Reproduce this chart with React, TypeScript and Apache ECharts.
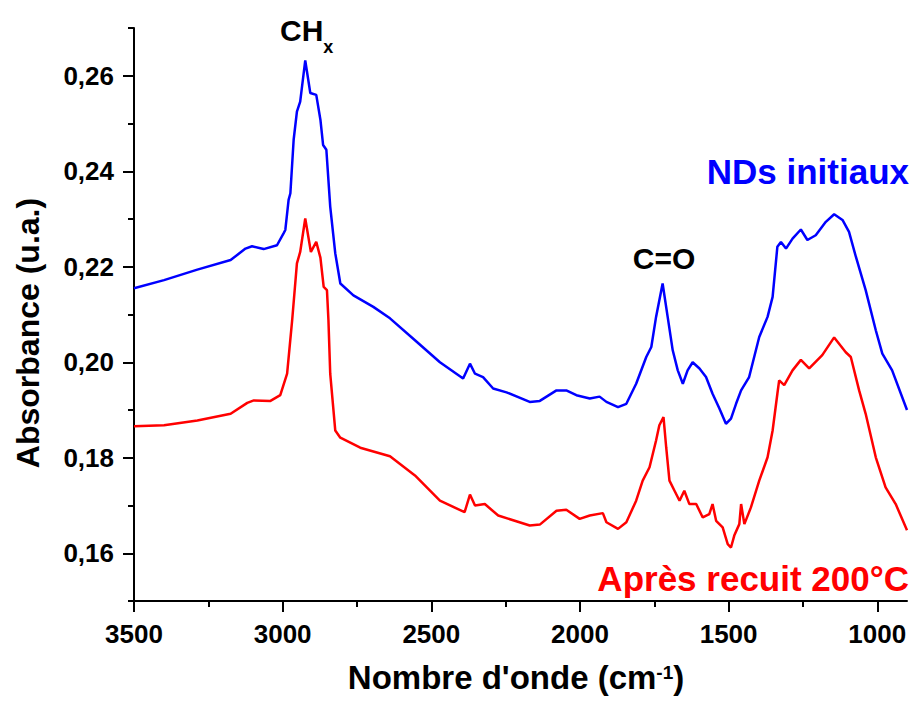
import React, { useEffect, useRef } from "react";
import * as echarts from "echarts";

// Wavenumber (cm-1), absorbance (u.a.)
const ndsInitiaux: [number, number][] = [
  [3500, 0.2155], [3399, 0.2172], [3287, 0.2194], [3175, 0.2214], [3125, 0.2238], [3103, 0.2243],
  [3064, 0.2237], [3019, 0.2245], [2997, 0.227], [2991, 0.2277], [2980, 0.234], [2974, 0.2354],
  [2963, 0.2466], [2952, 0.2525], [2941, 0.2546], [2924, 0.2632], [2907, 0.2564], [2887, 0.256],
  [2873, 0.2508], [2864, 0.2455], [2853, 0.2445], [2840, 0.2326], [2823, 0.2228], [2806, 0.2165],
  [2762, 0.214], [2695, 0.2116], [2639, 0.2092], [2555, 0.2046], [2471, 0.2], [2393, 0.1966],
  [2370, 0.1997], [2353, 0.1976], [2326, 0.1969], [2292, 0.1945], [2247, 0.1937], [2169, 0.1917],
  [2135, 0.1919], [2079, 0.1941], [2046, 0.1941], [2012, 0.1931], [1967, 0.1924], [1934, 0.1928],
  [1911, 0.1917], [1872, 0.1906], [1844, 0.1913], [1811, 0.1955], [1777, 0.2011], [1760, 0.2032],
  [1744, 0.2095], [1722, 0.2165], [1705, 0.2095], [1688, 0.2025], [1671, 0.1983], [1654, 0.1955],
  [1638, 0.1983], [1621, 0.2], [1598, 0.1987], [1576, 0.1969], [1554, 0.1934], [1531, 0.1903],
  [1509, 0.1871], [1492, 0.1882], [1475, 0.1913], [1458, 0.1941], [1431, 0.1969], [1397, 0.2053],
  [1369, 0.2095], [1352, 0.2137], [1336, 0.2242], [1324, 0.2252], [1307, 0.2238], [1285, 0.2259],
  [1257, 0.2278], [1235, 0.2256], [1207, 0.2266], [1173, 0.2294], [1145, 0.231], [1117, 0.2298],
  [1095, 0.2273], [1072, 0.2221], [1039, 0.2151], [1005, 0.2067], [983, 0.2018], [950, 0.1983],
  [900, 0.19],
];

const apresRecuit: [number, number][] = [
  [3500, 0.1866], [3399, 0.1868], [3287, 0.1878], [3175, 0.1892], [3119, 0.1915], [3097, 0.192],
  [3041, 0.1919], [3008, 0.1931], [2985, 0.1976], [2968, 0.2088], [2952, 0.2207], [2941, 0.2231],
  [2924, 0.2301], [2905, 0.2231], [2887, 0.2252], [2873, 0.2219], [2862, 0.2158], [2851, 0.2151],
  [2846, 0.2088], [2840, 0.1976], [2823, 0.1857], [2806, 0.1842], [2739, 0.1821], [2639, 0.1803],
  [2555, 0.1763], [2471, 0.171], [2388, 0.1686], [2370, 0.1723], [2353, 0.17], [2320, 0.1703],
  [2275, 0.1679], [2169, 0.1658], [2135, 0.166], [2079, 0.1689], [2046, 0.1691], [2001, 0.1672],
  [1967, 0.1679], [1923, 0.1684], [1911, 0.1665], [1872, 0.1651], [1844, 0.1665], [1811, 0.171],
  [1789, 0.1752], [1766, 0.178], [1744, 0.1836], [1733, 0.1868], [1719, 0.1885], [1710, 0.1822],
  [1699, 0.1752], [1682, 0.1731], [1665, 0.171], [1649, 0.1731], [1632, 0.1703], [1609, 0.1703],
  [1587, 0.1675], [1565, 0.1682], [1554, 0.1703], [1542, 0.1668], [1520, 0.1654], [1503, 0.1619],
  [1492, 0.1612], [1481, 0.1637], [1464, 0.1661], [1458, 0.1703], [1447, 0.1661], [1425, 0.1696],
  [1397, 0.1752], [1369, 0.1801], [1352, 0.1857], [1336, 0.1934], [1330, 0.1962], [1313, 0.1952],
  [1285, 0.1983], [1257, 0.2005], [1229, 0.1987], [1185, 0.2015], [1145, 0.2052], [1106, 0.2021],
  [1089, 0.2011], [1061, 0.1941], [1039, 0.1892], [1005, 0.1801], [972, 0.1738], [938, 0.1703],
  [900, 0.1648],
];

const xMajorTicks = [1000, 1500, 2000, 2500, 3000, 3500];
const xMinorTicks = [1250, 1750, 2250, 2750, 3250];
const yMajorTicks = [0.16, 0.18, 0.2, 0.22, 0.24, 0.26];
const yMinorTicks = [0.15, 0.17, 0.19, 0.21, 0.23, 0.25, 0.27];

const FONT = "'Liberation Sans', Arial, sans-serif";

export default function App() {
  const ref = useRef<HTMLDivElement>(null);

  useEffect(() => {
    if (!ref.current) return;
    const chart = echarts.init(ref.current, undefined, { renderer: "svg" });
    const axisBase = {
      type: "value" as const,
      splitLine: { show: false },
    };
    chart.setOption({
      animation: false,
      backgroundColor: "#ffffff",
      grid: {
        left: 134,
        right: 5,
        top: 28,
        bottom: 103,
        containLabel: false,
        outerBoundsMode: "none",
      },
      xAxis: [
        {
          ...axisBase,
          min: 900,
          max: 3500,
          inverse: true,
          position: "bottom",
          axisLine: { show: true, lineStyle: { color: "#000", width: 2 } },
          axisTick: {
            show: true,
            inside: false,
            length: 11,
            customValues: xMajorTicks,
            lineStyle: { color: "#000", width: 2 },
          },
          axisLabel: {
            customValues: xMajorTicks,
            margin: 20,
            color: "#000",
            fontFamily: FONT,
            fontWeight: "bold",
            fontSize: 26,
            formatter: (v: number) => String(Math.round(v)),
          },
        },
        {
          ...axisBase,
          min: 900,
          max: 3500,
          inverse: true,
          position: "bottom",
          axisLine: { show: false },
          axisLabel: { show: false },
          axisTick: {
            show: true,
            inside: false,
            length: 6,
            customValues: xMinorTicks,
            lineStyle: { color: "#000", width: 2 },
          },
        },
      ],
      yAxis: [
        {
          ...axisBase,
          min: 0.15,
          max: 0.27,
          position: "left",
          axisLine: { show: true, lineStyle: { color: "#000", width: 2 } },
          axisTick: {
            show: true,
            inside: false,
            length: 11,
            customValues: yMajorTicks,
            lineStyle: { color: "#000", width: 2 },
          },
          axisLabel: {
            customValues: yMajorTicks,
            margin: 20,
            color: "#000",
            fontFamily: FONT,
            fontWeight: "bold",
            fontSize: 26,
            formatter: (v: number) => v.toFixed(2).replace(".", ","),
          },
        },
        {
          ...axisBase,
          min: 0.15,
          max: 0.27,
          position: "left",
          axisLine: { show: false },
          axisLabel: { show: false },
          axisTick: {
            show: true,
            inside: false,
            length: 6,
            customValues: yMinorTicks,
            lineStyle: { color: "#000", width: 2 },
          },
        },
      ],
      series: [
        {
          name: "NDs initiaux",
          type: "line",
          xAxisIndex: 0,
          yAxisIndex: 0,
          data: ndsInitiaux,
          showSymbol: false,
          symbol: "none",
          lineStyle: { color: "#0000ff", width: 2.5 },
          itemStyle: { color: "#0000ff" },
        },
        {
          name: "Après recuit 200°C",
          type: "line",
          xAxisIndex: 0,
          yAxisIndex: 0,
          data: apresRecuit,
          showSymbol: false,
          symbol: "none",
          lineStyle: { color: "#ff0000", width: 2.5 },
          itemStyle: { color: "#ff0000" },
        },
      ],
      graphic: [
        {
          type: "text",
          x: 28,
          y: 333,
          rotation: Math.PI / 2,
          style: {
            text: "Absorbance (u.a.)",
            fontFamily: FONT,
            fontWeight: "bold",
            fontSize: 32,
            fill: "#000",
            align: "center",
            verticalAlign: "middle",
          },
        },
        {
          type: "text",
          x: 516,
          y: 677,
          style: {
            text: "{a|Nombre d'onde (cm}{b|-1}{a|)}",
            fill: "#000",
            align: "center",
            verticalAlign: "middle",
            rich: {
              a: { fontFamily: FONT, fontWeight: "bold", fontSize: 33, lineHeight: 28, fill: "#000" },
              b: { fontFamily: FONT, fontWeight: "bold", fontSize: 19, verticalAlign: "top", fill: "#000" },
            },
          },
        },
        {
          type: "text",
          x: 280,
          y: 30,
          style: {
            text: "{a|CH}{b|x}",
            fill: "#000",
            align: "left",
            verticalAlign: "middle",
            rich: {
              a: { fontFamily: FONT, fontWeight: "bold", fontSize: 30, lineHeight: 52, fill: "#000" },
              b: { fontFamily: FONT, fontWeight: "bold", fontSize: 18, verticalAlign: "bottom", fill: "#000" },
            },
          },
        },
        {
          type: "text",
          x: 664,
          y: 258,
          style: {
            text: "C=O",
            fontFamily: FONT,
            fontWeight: "bold",
            fontSize: 30,
            fill: "#000",
            align: "center",
            verticalAlign: "middle",
          },
        },
        {
          type: "text",
          x: 909,
          y: 171,
          style: {
            text: "NDs initiaux",
            fontFamily: FONT,
            fontWeight: "bold",
            fontSize: 35,
            fill: "#0000ff",
            align: "right",
            verticalAlign: "middle",
          },
        },
        {
          type: "text",
          x: 909,
          y: 578,
          style: {
            text: "Après recuit 200°C",
            fontFamily: FONT,
            fontWeight: "bold",
            fontSize: 35,
            fill: "#ff0000",
            align: "right",
            verticalAlign: "middle",
          },
        },
      ],
    });
    return () => chart.dispose();
  }, []);

  return (
    <div
      ref={ref}
      style={{ position: "absolute", left: 0, top: 0, width: 912, height: 704 }}
    />
  );
}
